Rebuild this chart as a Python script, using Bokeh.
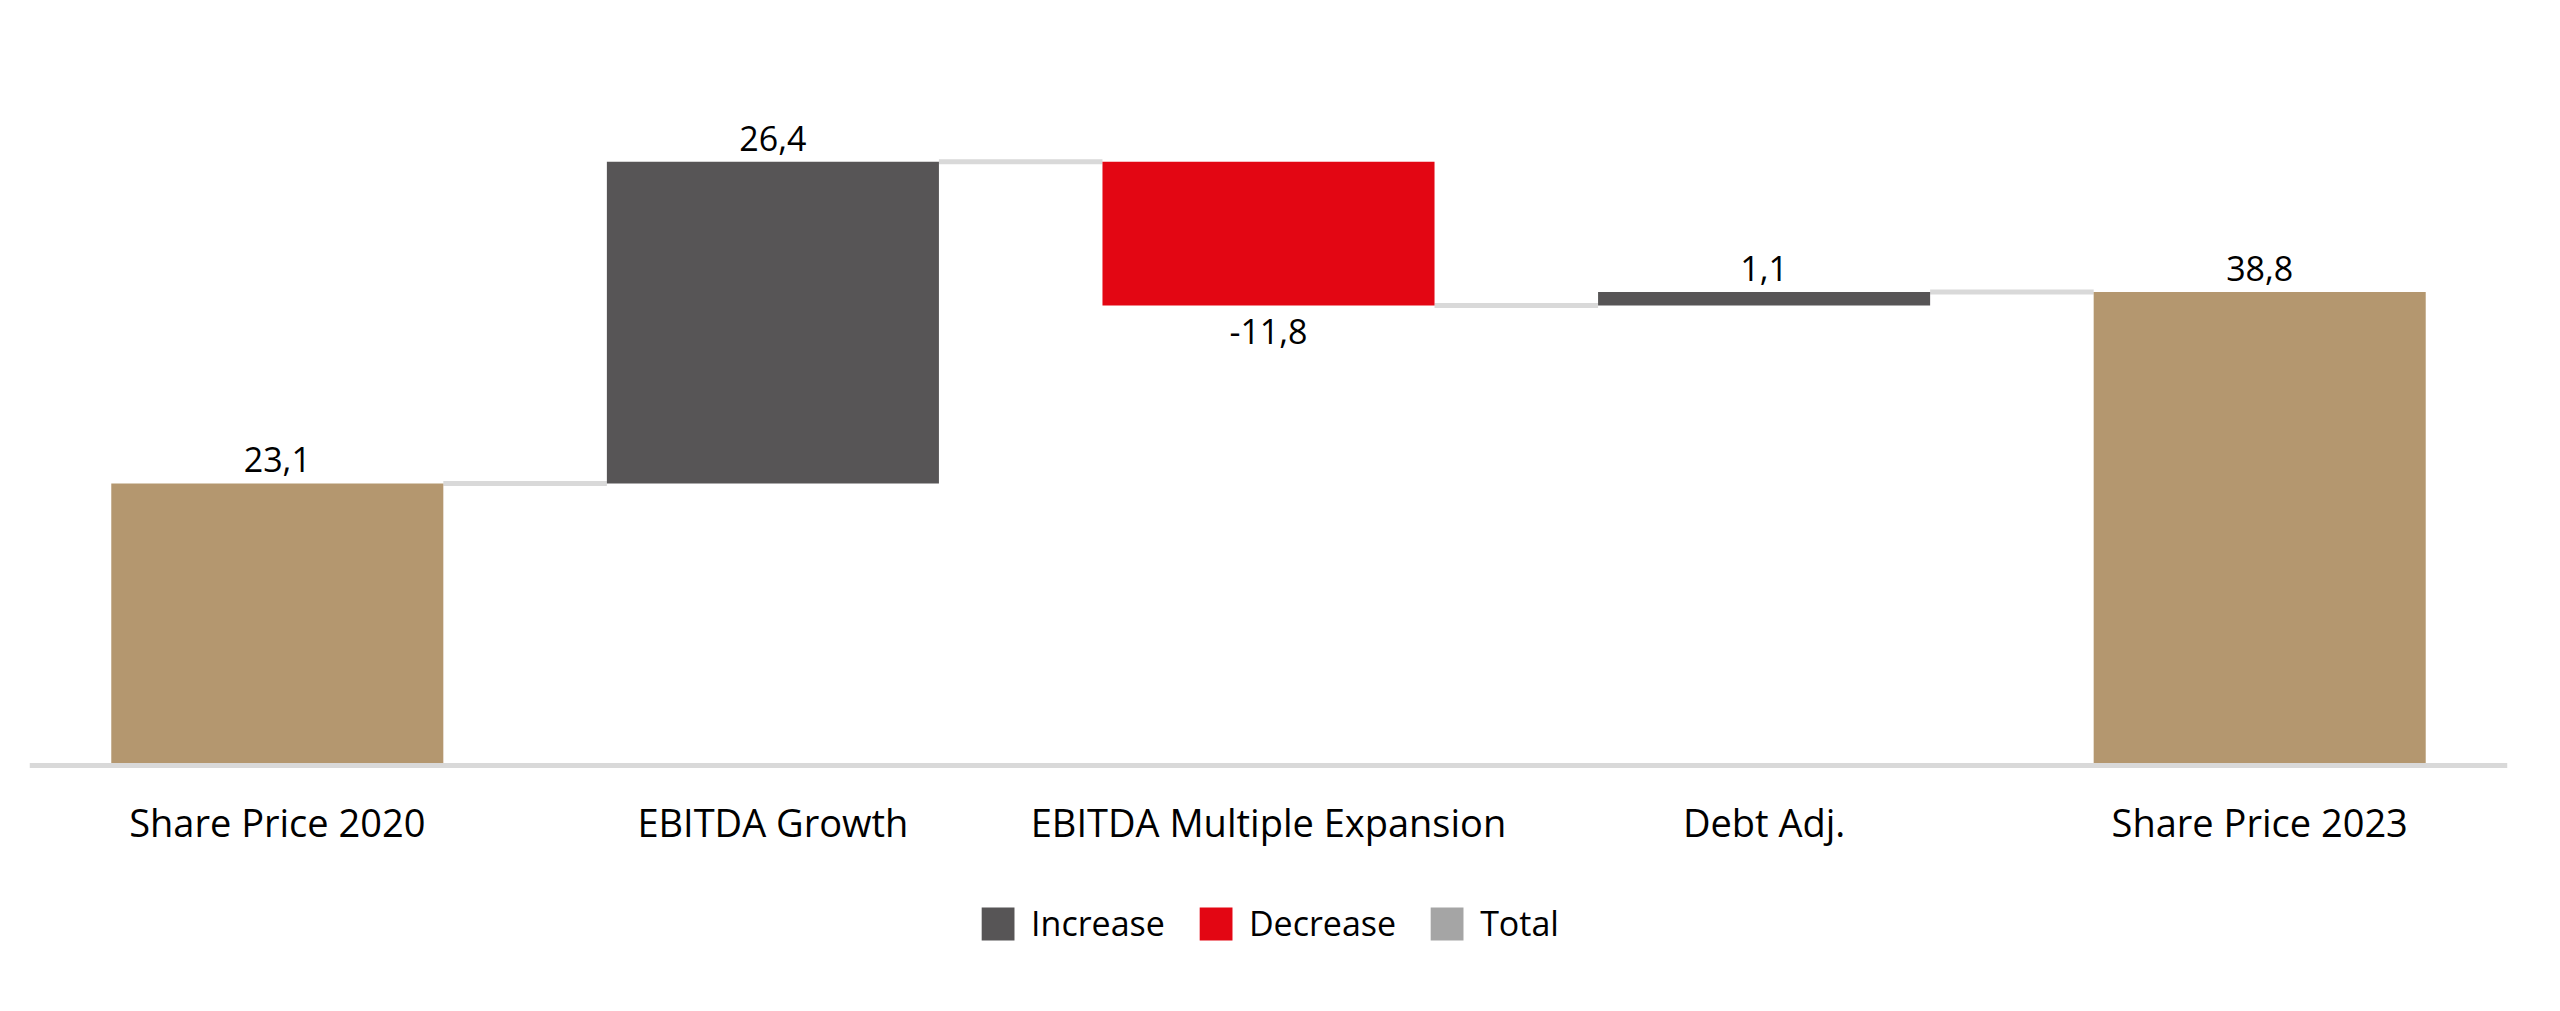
from bokeh.plotting import figure
from bokeh.models import ColumnDataSource, FactorRange, Range1d, Legend, LegendItem
from bokeh.transform import dodge
from bokeh.core.properties import value
from bokeh.embed import file_html
from bokeh.resources import INLINE

# ---- data ----
categories = ["Share Price 2020", "EBITDA Growth", "EBITDA Multiple Expansion", "Debt Adj.", "Share Price 2023"]
changes = [23.1, 26.4, -11.8, 1.1, 38.8]
kinds = ["total", "increase", "decrease", "increase", "total"]
legend_labels = ["Increase", "Decrease", "Total"]

# ---- styles ----
FONT = "Open Sans"
kind_colors = {"total": "#b4976f", "increase": "#575556", "decrease": "#e30613"}
legend_colors = ["#575556", "#e30613", "#a5a5a5"]
CONNECTOR = "#d9d9d9"
BAR_W = 0.67

# ---- waterfall geometry ----
bottoms, tops, levels = [], [], []
running = 0.0
for c, k in zip(changes, kinds):
    if k == "total":
        b, t = 0.0, c
        running = c
    else:
        b = running
        running = running + c
        t = running
    bottoms.append(min(b, t))
    tops.append(max(b, t))
    levels.append(running)

labels = [f"{c:.1f}".replace(".", ",") for c in changes]
lab_y = [bt if c < 0 else tp for c, bt, tp in zip(changes, bottoms, tops)]
lab_base = ["top" if c < 0 else "bottom" for c in changes]
lab_off = [13 if c < 0 else -11 for c in changes]

bars = ColumnDataSource(dict(
    cat=categories, bottom=bottoms, top=tops,
    color=[kind_colors[k] for k in kinds],
    label=labels, ly=lab_y, lbase=lab_base, loff=lab_off,
))

conn = ColumnDataSource(dict(
    c0=categories[:-1], c1=categories[1:], y=levels[:-1],
))

p = figure(
    x_range=FactorRange(*categories, range_padding=0),
    y_range=Range1d(-18.49, 61.9),
    width=2544, height=995,
    output_backend="svg", toolbar_location=None,
    min_border_left=29, min_border_right=37, min_border_top=10, min_border_bottom=5,
)
p.outline_line_color = None
p.grid.visible = False
p.yaxis.visible = False
p.background_fill_color = "white"

# connectors
p.segment(x0=dodge("c0", BAR_W / 2, range=p.x_range), x1=dodge("c1", -BAR_W / 2, range=p.x_range),
          y0="y", y1="y", source=conn, line_color=CONNECTOR, line_width=5)

# bars
p.vbar(x="cat", bottom="bottom", top="top", width=BAR_W, source=bars,
       fill_color="color", line_color=None)

# value labels
p.text(x="cat", y="ly", text="label", source=bars, text_align="center",
       text_baseline="lbase", y_offset="loff", text_font=value(FONT),
       text_font_size="34px", text_color="#000000")

# x axis, pinned at zero
ax = p.xaxis[0]
ax.fixed_location = 0
ax.axis_line_color = CONNECTOR
ax.axis_line_width = 5
ax.major_tick_line_color = None
ax.minor_tick_line_color = None
ax.major_tick_out = 0
ax.major_tick_in = 0
ax.major_label_standoff = 31
ax.major_label_text_font = FONT
ax.major_label_text_font_size = "38px"
ax.major_label_text_color = "#000000"

# legend with (invisible, zero-height) proxy renderers
items = []
for lab, col in zip(legend_labels, legend_colors):
    r = p.vbar(x=[categories[0]], bottom=[0], top=[0], width=0.001, fill_color=col, line_color=None)
    items.append(LegendItem(label=lab, renderers=[r]))
legend = Legend(items=items, orientation="horizontal", location="bottom_center",
                glyph_width=41, glyph_height=41, label_standoff=13, spacing=30,
                label_text_font=FONT, label_text_font_size="34px", label_text_color="#000000",
                border_line_color=None, background_fill_alpha=0, margin=44, padding=4)
p.add_layout(legend, "center")

open("out.html", "w").write(file_html(p, INLINE))
